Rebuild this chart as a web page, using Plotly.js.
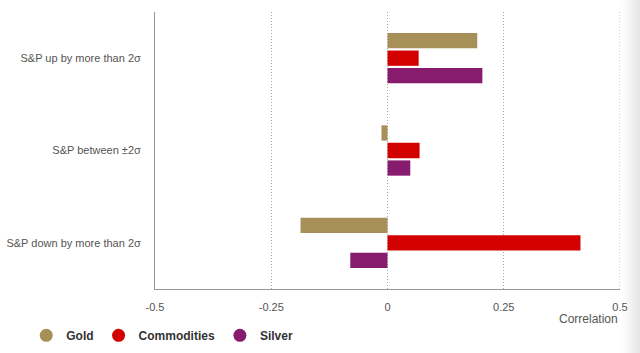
<!DOCTYPE html>
<html>
<head>
<meta charset="utf-8">
<script src="https://cdn.plot.ly/plotly-3.0.1.min.js"></script>
<style>
  html, body { margin: 0; padding: 0; }
  body { width: 640px; height: 353px; background: linear-gradient(to right, #ffffff 0px, #ffffff 622px, #e4e4e4 640px); }
  #chart { width: 640px; height: 353px; }
</style>
</head>
<body>
<div id="chart"></div>
<script>
const categories = ["S&P up by more than 2σ", "S&P between ±2σ", "S&P down by more than 2σ"];
const seriesNames = ["Gold", "Commodities", "Silver"];
const gold = [0.193, -0.013, -0.187];
const commodities = [0.067, 0.069, 0.415];
const silver = [0.204, 0.049, -0.080];
const xTickVals = [-0.5, -0.25, 0, 0.25, 0.5];
const xTickText = ["-0.5", "-0.25", "0", "0.25", "0.5"];
const colors = ["#A69058", "#D20000", "#871C6E"];

const seriesValues = [gold, commodities, silver];
const traces = [];
seriesValues.forEach((vals, i) => {
  traces.push({
    type: "bar", orientation: "h",
    x: vals, y: categories,
    name: seriesNames[i],
    marker: { color: colors[i] },
    showlegend: false,
    hoverinfo: "x+name"
  });
});
seriesValues.forEach((vals, i) => {
  traces.push({
    type: "scatter", mode: "markers",
    x: [null], y: [null],
    name: "<b>" + seriesNames[i] + "</b>",
    marker: { color: colors[i], size: 13, symbol: "circle" },
    showlegend: true
  });
});

const layout = {
  width: 640, height: 353,
  margin: { l: 155, r: 20, t: 12, b: 64 },
  paper_bgcolor: "rgba(0,0,0,0)",
  plot_bgcolor: "rgba(0,0,0,0)",
  font: { family: "Liberation Sans, Arial, sans-serif", size: 11, color: "#555" },
  barmode: "group",
  bargap: 0.43,
  bargroupgap: 0.13,
  xaxis: {
    range: [-0.5, 0.5],
    tickvals: xTickVals, ticktext: xTickText,
    showgrid: true, gridcolor: "#aaaaaa", griddash: "1px,2px", gridwidth: 1,
    zeroline: false,
    showline: true, linecolor: "#999", linewidth: 1,
    ticks: "", ticklen: 0, ticklabelstandoff: 8,
    tickfont: { size: 11, color: "#555" },
    fixedrange: true
  },
  yaxis: {
    type: "category",
    categoryorder: "array", categoryarray: categories,
    autorange: "reversed",
    showgrid: false, zeroline: false,
    showline: true, linecolor: "#999", linewidth: 1,
    ticks: "", ticklabelstandoff: 11,
    tickfont: { size: 11, color: "#555" },
    fixedrange: true
  },
  shapes: [
    { type: "line", xref: "x", yref: "paper", x0: 0.5, x1: 0.5, y0: 0, y1: 1,
      line: { color: "#aaaaaa", width: 1, dash: "1px,2px" } }
  ],
  annotations: [
    { text: "Correlation", xref: "paper", yref: "paper", x: 1, y: -0.108,
      xanchor: "right", yanchor: "middle", showarrow: false,
      font: { size: 12, color: "#555" } }
  ],
  legend: {
    orientation: "h",
    xref: "container", yref: "container",
    x: 0.041, y: 0.05, xanchor: "left", yanchor: "middle",
    font: { size: 12, color: "#333" },
    itemwidth: 30,
    bgcolor: "rgba(0,0,0,0)"
  }
};

Plotly.newPlot("chart", traces, layout, { displayModeBar: false, staticPlot: true });
</script>
</body>
</html>
